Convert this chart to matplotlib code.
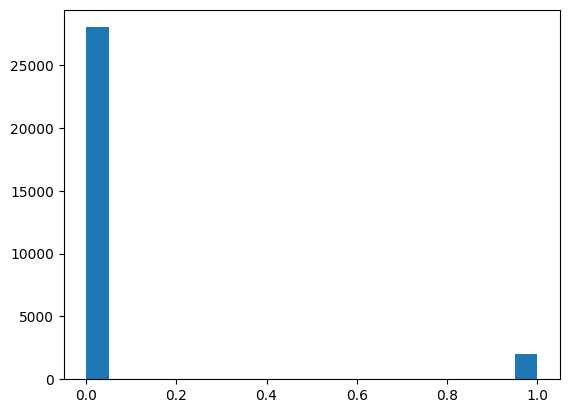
import matplotlib
matplotlib.use("Agg")
import matplotlib.pyplot as plt

# binary target values and their counts
values = [0, 1]
counts = [28000, 2000]

fig, ax = plt.subplots(figsize=(6.4, 4.8), dpi=100)
ax.hist(values, bins=20, weights=counts, color="#1f77b4")
fig.savefig("out.png", bbox_inches="tight")
